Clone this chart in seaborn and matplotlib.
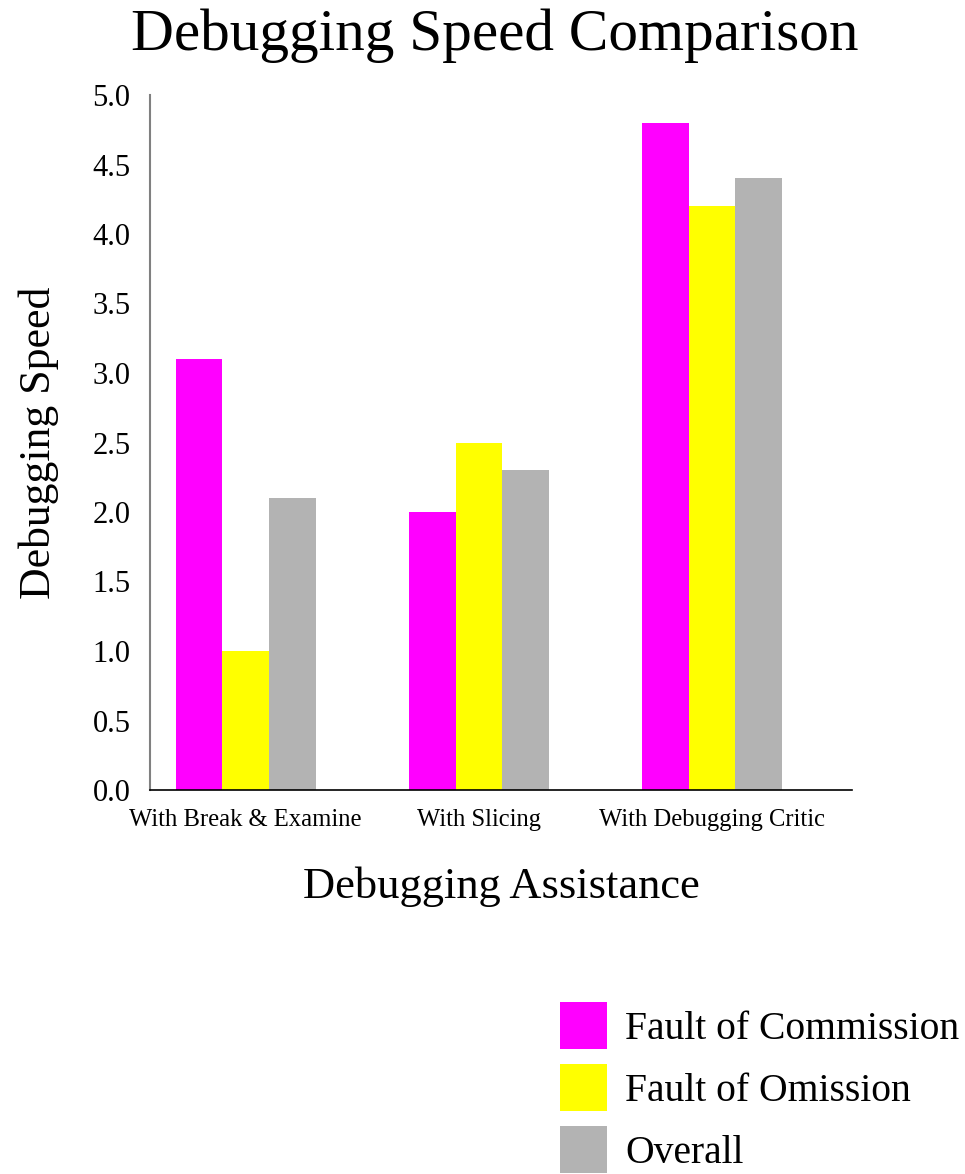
import matplotlib
matplotlib.use("Agg")
import matplotlib.pyplot as plt
import seaborn as sns
import pandas as pd
from matplotlib.patches import Patch

# Chart data
categories = ["With Break & Examine", "With Slicing", "With Debugging Critic"]
series_names = ["Fault of Commission", "Fault of Omission", "Overall"]
commission = [3.1, 2.0, 4.8]
omission = [1.0, 2.5, 4.2]
overall = [2.1, 2.3, 4.4]
y_ticks = [0.0, 0.5, 1.0, 1.5, 2.0, 2.5, 3.0, 3.5, 4.0, 4.5, 5.0]
colors = ["#ff00ff", "#ffff00", "#b3b3b3"]

rows = []
for name, vals in zip(series_names, [commission, omission, overall]):
    for cat, v in zip(categories, vals):
        rows.append({"Debugging Assistance": cat, "Series": name, "Debugging Speed": v})
df = pd.DataFrame(rows)

sns.set_theme(style="white")
plt.rcParams["font.family"] = ["Liberation Serif", "DejaVu Serif"]

fig = plt.figure(figsize=(9.65, 11.74), dpi=100)
ax = fig.add_axes([150 / 965, 1 - 790 / 1174, 702 / 965, 695 / 1174])

sns.barplot(data=df, x="Debugging Assistance", y="Debugging Speed", hue="Series",
            hue_order=series_names, order=categories, palette=colors,
            width=0.6, saturation=1, linewidth=0, ax=ax, legend=False)

ax.set_ylim(0, 5.0)
ax.set_xlim(-0.41, 2.6)
ax.set_yticks(y_ticks)
ax.set_yticklabels([f"{t:.1f}" for t in y_ticks], fontsize=22)
ax.tick_params(axis="y", length=0, pad=14, labelcolor="black")
ax.tick_params(axis="x", length=0, pad=14, labelsize=17.7, labelcolor="black")

for s in ["top", "right"]:
    ax.spines[s].set_visible(False)
ax.spines["left"].set_color("#808080")
ax.spines["left"].set_linewidth(1.5)
ax.spines["bottom"].set_color("black")
ax.spines["bottom"].set_linewidth(1.2)

ax.set_xlabel("Debugging Assistance", fontsize=32, labelpad=25, color="black")
ax.set_ylabel("Debugging Speed", fontsize=31.5, labelpad=24, color="black")
fig.text(0.513, 1 - 36 / 1174, "Debugging Speed Comparison", fontsize=42.7,
         ha="center", va="center", color="black")

handles = [Patch(facecolor=c, edgecolor="none") for c in colors]
fig.legend(handles, series_names, loc="upper left",
           bbox_to_anchor=(560 / 965, 1 - 1002 / 1174), frameon=False,
           fontsize=28.5, labelcolor="black", borderpad=0, borderaxespad=0,
           handlelength=1.19, handleheight=1.45, handletextpad=0.45,
           labelspacing=0.38)

fig.savefig("out.png", dpi=100, facecolor="white")
